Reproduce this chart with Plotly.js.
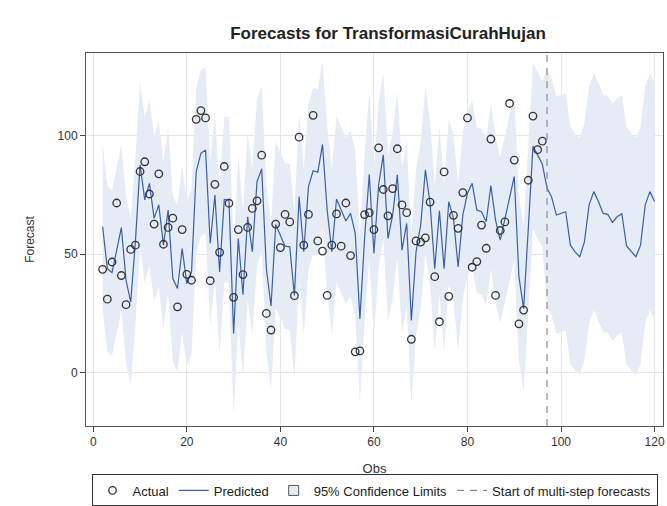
<!DOCTYPE html>
<html>
<head>
<meta charset="utf-8">
<script src="https://cdn.plot.ly/plotly-3.0.1.min.js"></script>
<style>html,body{margin:0;padding:0;background:#fff;}#chart{width:667px;height:506px;}</style>
</head>
<body>
<div id="chart"></div>
<script>
// ---- data ----
var actualObs = [2,3,4,5,6,7,8,9,10,11,12,13,14,15,16,17,18,19,20,21,22,23,24,25,26,27,28,29,30,31,32,33,34,35,36,37,38,39,40,41,42,43,44,45,46,47,48,49,50,51,52,53,54,55,56,57,58,59,60,61,62,63,64,65,66,67,68,69,70,71,72,73,74,75,76,77,78,79,80,81,82,83,84,85,86,87,88,89,90,91,92,93,94,95,96];
var actual = [43.6,31.0,46.7,71.6,41.0,28.7,52.0,53.8,84.9,89.0,75.4,62.7,83.9,54.2,61.3,65.2,27.8,60.4,41.5,39.0,106.9,110.6,107.5,38.8,79.5,50.8,87.0,71.5,31.8,60.4,41.4,61.3,69.3,72.5,91.8,25.0,18.0,62.7,52.8,66.8,63.6,32.5,99.4,53.8,66.8,108.6,55.6,51.3,32.6,53.8,67.0,53.4,71.6,49.4,8.8,9.2,66.7,67.5,60.4,94.9,77.3,66.2,77.7,94.5,70.8,67.5,14.1,55.6,55.1,56.9,72.0,40.5,21.5,84.7,32.2,66.4,60.9,76.0,107.5,44.5,46.9,62.3,52.5,98.6,32.6,60.0,63.6,113.6,89.7,20.6,26.4,81.2,108.3,94.1,97.7];

var predObs = [2,3,4,5,6,7,8,9,10,11,12,13,14,15,16,17,18,19,20,21,22,23,24,25,26,27,28,29,30,31,32,33,34,35,36,37,38,39,40,41,42,43,44,45,46,47,48,49,50,51,52,53,54,55,56,57,58,59,60,61,62,63,64,65,66,67,68,69,70,71,72,73,74,75,76,77,78,79,80,81,82,83,84,85,86,87,88,89,90,91,92,93,94,95,96,97,98,99,100,101,102,103,104,105,106,107,108,109,110,111,112,113,114,115,116,117,118,119,120];
var predicted = [61.6,43.9,42.2,51.3,61.2,39.0,29.8,55.2,87.7,72.9,79.9,65.1,70.8,53.8,68.6,39.7,35.5,52.4,37.6,42.5,84.9,92.6,94.0,54.5,75.0,42.5,73.1,72.9,16.4,56.6,32.9,65.8,51.0,80.6,86.0,43.9,28.1,62.5,58.0,53.4,53.1,32.6,74.3,51.0,78.5,85.2,84.6,96.3,68.6,51.0,73.3,68.6,64.0,67.2,58.8,22.7,56.6,83.7,50.3,79.2,91.9,56.6,66.5,83.5,51.7,63.0,22.0,51.0,62.3,85.6,71.5,43.9,68.3,43.9,72.2,65.1,44.6,66.5,75.7,79.9,68.6,67.9,63.7,79.0,64.4,55.9,65.1,73.6,82.8,40.4,27.0,60.8,95.5,91.9,88.0,78.0,74.0,66.5,67.2,67.9,53.8,51.0,48.9,55.2,70.8,76.4,72.2,67.2,66.8,63.4,65.8,67.1,53.5,51.0,48.9,53.8,70.8,76.4,72.2];
var lower95 = [26.6,8.9,7.2,16.3,26.2,4.0,-5.2,20.2,52.7,37.9,44.9,30.1,35.8,18.8,33.6,4.7,0.5,17.4,2.6,7.5,49.9,57.6,59.0,19.5,40.0,7.5,38.1,37.9,-18.6,21.6,-2.1,30.8,16.0,45.6,51.0,8.9,-6.9,27.5,23.0,18.4,18.1,-2.4,39.3,16.0,43.5,50.2,49.6,61.3,33.6,16.0,38.3,33.6,29.0,32.2,23.8,-12.3,21.6,48.7,15.3,44.2,56.9,21.6,31.5,48.5,16.7,28.0,-13.0,16.0,27.3,50.6,36.5,8.9,33.3,8.9,37.2,30.1,9.6,31.5,40.7,44.9,33.6,32.9,28.7,44.0,29.4,20.9,30.1,38.6,47.8,5.4,-8.0,25.8,60.5,56.9,53.0,28.0,24.0,16.5,17.2,17.9,3.8,1.0,-1.1,5.2,20.8,26.4,22.2,17.2,16.8,13.4,15.8,17.1,3.5,1.0,-1.1,3.8,20.8,26.4,22.2];
var upper95 = [96.6,78.9,77.2,86.3,96.2,74.0,64.8,90.2,122.7,107.9,114.9,100.1,105.8,88.8,103.6,74.7,70.5,87.4,72.6,77.5,119.9,127.6,129.0,89.5,110.0,77.5,108.1,107.9,51.4,91.6,67.9,100.8,86.0,115.6,121.0,78.9,63.1,97.5,93.0,88.4,88.1,67.6,109.3,86.0,113.5,120.2,119.6,131.3,103.6,86.0,108.3,103.6,99.0,102.2,93.8,57.7,91.6,118.7,85.3,114.2,126.9,91.6,101.5,118.5,86.7,98.0,57.0,86.0,97.3,120.6,106.5,78.9,103.3,78.9,107.2,100.1,79.6,101.5,110.7,114.9,103.6,102.9,98.7,114.0,99.4,90.9,100.1,108.6,117.8,75.4,62.0,95.8,130.5,126.9,123.0,128.0,124.0,116.5,117.2,117.9,103.8,101.0,98.9,105.2,120.8,126.4,122.2,117.2,116.8,113.4,115.8,117.1,103.5,101.0,98.9,103.8,120.8,126.4,122.2];
var forecastStart = 97;
var xTicks = [0,20,40,60,80,100,120];
var yTicks = [0,50,100];
var seriesNames = ["Actual","Predicted","95% Confidence Limits","Start of multi-step forecasts"];

// ---- traces ----
var bandX = predObs.concat(predObs.slice().reverse());
var bandY = upper95.concat(lower95.slice().reverse());
var FONT = "Liberation Sans, Arial, sans-serif";
var bandColor = "#e5ecf6";

var traces = [
  {x: bandX, y: bandY, type: "scatter", mode: "lines", fill: "toself",
   fillcolor: bandColor, line: {width: 0, color: bandColor},
   hoverinfo: "skip", showlegend: false},
  {x: predObs, y: predicted, type: "scatter", mode: "lines", name: seriesNames[1],
   line: {color: "#3a60a4", width: 1.2}, legendrank: 2},
  {x: actualObs, y: actual, type: "scatter", mode: "markers", name: seriesNames[0],
   marker: {symbol: "circle-open", size: 7.5, color: "#333333", line: {width: 1.3, color: "#333333"}},
   legendrank: 1},
  {x: [null], y: [null], type: "scatter", mode: "markers", name: seriesNames[2],
   marker: {symbol: "square", size: 10, color: bandColor, line: {color: "#555555", width: 1}}, legendrank: 3},
  {x: [null], y: [null], type: "scatter", mode: "lines", name: seriesNames[3],
   line: {color: "#8a8a8a", width: 1.2, dash: "7px,6px"}, legendrank: 4}
];

var layout = {
  width: 667, height: 506,
  margin: {l: 86, r: 4, t: 53, b: 80, autoexpand: false},
  paper_bgcolor: "#ffffff", plot_bgcolor: "#ffffff",
  font: {family: FONT, size: 12, color: "#333333"},
  title: {text: "<b>Forecasts for TransformasiCurahHujan</b>", font: {family: FONT, size: 17, color: "#222222"},
          x: 388/667, xref: "container", xanchor: "center", y: 1 - 33/506, yanchor: "middle"},
  showlegend: true,
  legend: {orientation: "h", x: 0.5, xanchor: "center", y: -0.13, yanchor: "top",
           bordercolor: "#333333", borderwidth: 1, font: {family: FONT, size: 13, color: "#222222"},
           traceorder: "normal", tracegroupgap: 0},
  xaxis: {range: [-1.56, 121.8], tickvals: xTicks, ticks: "outside", ticklen: 5, tickcolor: "#444",
          showline: true, linecolor: "#555555", linewidth: 1, mirror: true,
          showgrid: true, gridcolor: "#e6e6e6", zeroline: false, automargin: false,
          tickfont: {size: 12, color: "#333"},
          title: {text: "Obs", font: {size: 13, color: "#333"}, standoff: 15}},
  yaxis: {range: [-22.5, 134.9], tickvals: yTicks, ticks: "outside", ticklen: 5, tickcolor: "#444",
          showline: true, linecolor: "#555555", linewidth: 1, mirror: true,
          showgrid: true, gridcolor: "#e6e6e6", zeroline: false, automargin: false,
          tickfont: {size: 12, color: "#333"},
          title: {text: "Forecast", font: {size: 12, color: "#333"}, standoff: 20}},
  shapes: [
    {type: "line", xref: "x", yref: "paper", x0: forecastStart, x1: forecastStart, y0: 0, y1: 1,
     line: {color: "#8a8a8a", width: 1.2, dash: "7px,6px"}, layer: "above"}
  ]
};

Plotly.newPlot("chart", traces, layout, {displayModeBar: false, staticPlot: true});
</script>
</body>
</html>
